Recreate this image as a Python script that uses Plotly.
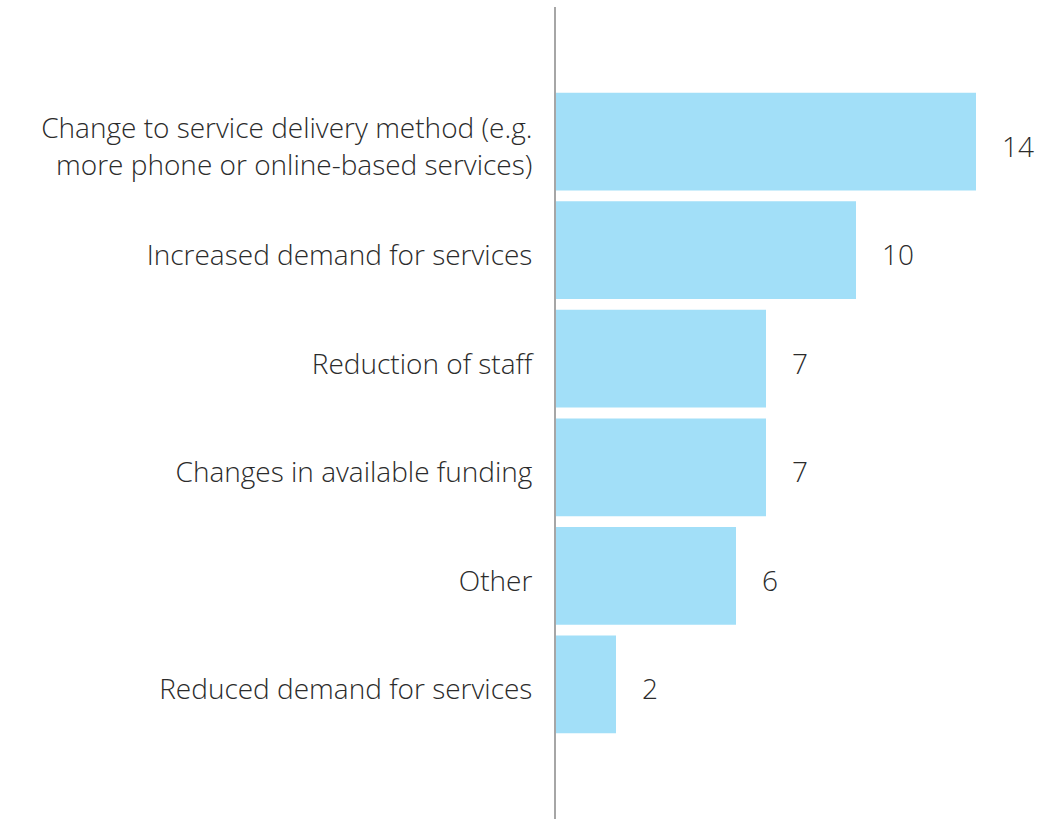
import plotly.graph_objects as go

categories = [
    "Change to service delivery method (e.g.<br>more phone or online-based services)",
    "Increased demand for services",
    "Reduction of staff",
    "Changes in available funding",
    "Other",
    "Reduced demand for services",
]
values = [14, 10, 7, 7, 6, 2]

FONT = "Open Sans"
TEXT_COLOR = "#2b2b2b"
FS = 28

fig = go.Figure(
    go.Bar(
        x=values,
        y=list(range(len(categories))),
        orientation="h",
        marker=dict(color="#a2dff8", line=dict(width=0)),
        hoverinfo="skip",
    )
)

for i, v in enumerate(values):
    fig.add_annotation(
        x=v, y=i, text=str(v), showarrow=False,
        xanchor="left", xshift=24, yshift=-4,
        font=dict(family=FONT, size=FS, color=TEXT_COLOR, weight=300),
    )

fig.update_layout(
    width=1037, height=819,
    margin=dict(l=556, r=31, t=7, b=0),
    paper_bgcolor="white", plot_bgcolor="white",
    bargap=0.1,
    showlegend=False,
    font=dict(family=FONT, size=FS, color=TEXT_COLOR, weight=300),
)
fig.update_xaxes(
    range=[0, 15], visible=False, showgrid=False, zeroline=False,
)
fig.update_yaxes(
    range=[6.24, -1.24],
    tickmode="array",
    tickvals=list(range(len(categories))),
    ticktext=categories,
    showgrid=False, zeroline=False,
    showline=True, linecolor="#a6a6a6", linewidth=2,
    ticks="", ticklabelstandoff=16, ticklabelshift=-5,
    tickfont=dict(family=FONT, size=FS, color=TEXT_COLOR, weight=300),
)

fig.write_html(
    "out.html",
    config={"displayModeBar": False},
    post_script="document.body.style.margin='0';document.body.style.overflow='hidden';",
)
